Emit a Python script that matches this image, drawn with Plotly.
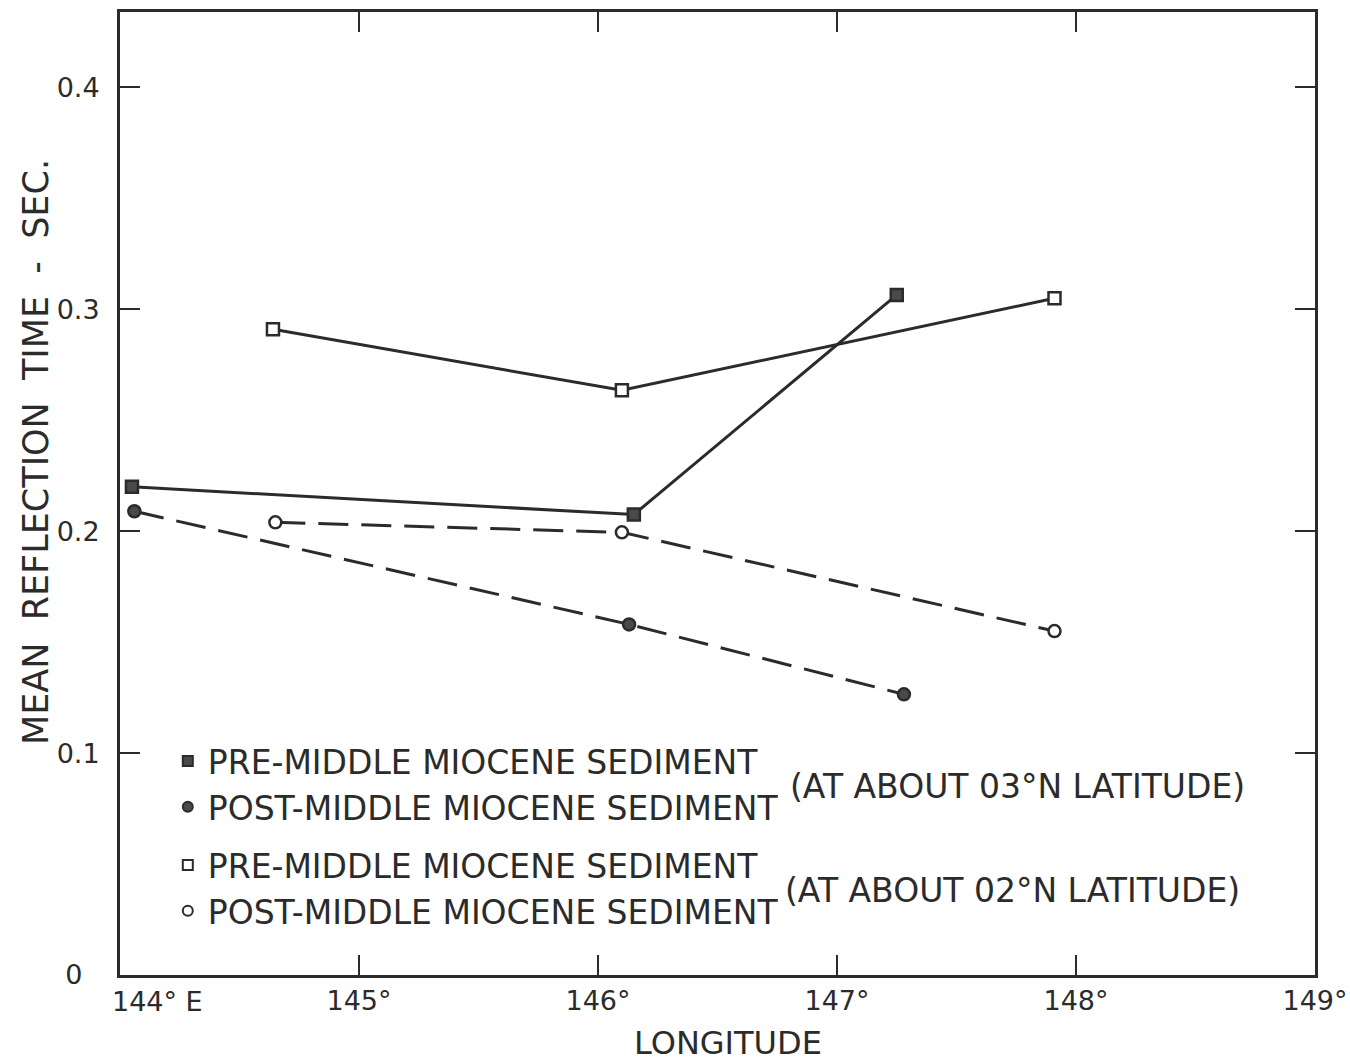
import plotly.graph_objects as go

# Data
lon_pre03 = [144.05, 146.15, 147.25]
t_pre03 = [0.220, 0.2075, 0.3065]
lon_post03 = [144.06, 146.13, 147.28]
t_post03 = [0.209, 0.158, 0.1265]
lon_pre02 = [144.64, 146.10, 147.91]
t_pre02 = [0.291, 0.2635, 0.305]
lon_post02 = [144.65, 146.10, 147.91]
t_post02 = [0.204, 0.1995, 0.155]

x_ticks = [144, 145, 146, 147, 148, 149]
x_tick_labels = ["", "145°", "146°", "147°", "148°", "149°"]
first_x_label = "144° E"
y_ticks = [0, 0.1, 0.2, 0.3, 0.4]
y_tick_labels = ["0" + "\u00a0" * 2, "0.1", "0.2", "0.3", "0.4"]

FONT = "DejaVu Sans"
INK = "#2b2b2b"
FILL = "#4a4a4a"

fig = go.Figure()

def add(x, y, dash, symbol, fill, name, group, legend):
    fig.add_trace(go.Scatter(
        x=x, y=y, mode="lines+markers", name=name,
        line=dict(color=INK, width=3, dash=dash),
        marker=dict(symbol=symbol, size=12, color=fill, line=dict(color=INK, width=2.5)),
        showlegend=False,
    ))
    fig.add_trace(go.Scatter(
        x=[None], y=[None], mode="markers", name=name, legendgroup=group, legend=legend,
        marker=dict(symbol=symbol, size=10, color=fill, line=dict(color=INK, width=2)),
        showlegend=True,
    ))

add(lon_pre03, t_pre03, "solid", "square", FILL, "PRE-MIDDLE MIOCENE SEDIMENT", "a", "legend")
add(lon_post03, t_post03, "30px,13px", "circle", FILL, "POST-MIDDLE MIOCENE SEDIMENT", "b", "legend")
add(lon_pre02, t_pre02, "solid", "square", "white", "PRE-MIDDLE MIOCENE SEDIMENT", "c", "legend2")
add(lon_post02, t_post02, "30px,13px", "circle", "white", "POST-MIDDLE MIOCENE SEDIMENT", "d", "legend2")

legend_common = dict(
    xanchor="left", yanchor="top",
    font=dict(family=FONT, size=33, color=INK),
    bgcolor="rgba(0,0,0,0)", tracegroupgap=0,
    traceorder="grouped", itemwidth=30,
)

fig.update_layout(
    width=1350, height=1064,
    margin=dict(l=120, r=35, t=12, b=89),
    paper_bgcolor="white", plot_bgcolor="white",
    font=dict(family=FONT, color=INK, size=26),
    legend=dict(x=0.04, y=(975 - 733) / 963, **legend_common),
    legend2=dict(x=0.04, y=(975 - 837) / 963, **legend_common),
    xaxis=dict(
        range=[144, 149], tickvals=x_ticks, ticktext=x_tick_labels,
        ticks="inside", ticklen=20, tickwidth=2, tickcolor=INK,
        showline=True, linewidth=3, linecolor=INK, mirror="ticks",
        showgrid=False, zeroline=False, automargin=False,
        tickfont=dict(size=27, family=FONT),
    ),
    yaxis=dict(
        range=[0, 0.434], tickvals=y_ticks, ticktext=y_tick_labels,
        ticks="inside", ticklen=20, tickwidth=2, tickcolor=INK,
        showline=True, linewidth=3, linecolor=INK, mirror="ticks",
        showgrid=False, zeroline=False, automargin=False,
        tickfont=dict(size=27, family=FONT), ticklabelstandoff=12,
    ),
)

# first x tick label (offset to the right as in the original)
fig.add_annotation(xref="x", yref="paper", x=144, y=0, xanchor="left", yanchor="top",
                   xshift=-10, yshift=-9, showarrow=False, text=first_x_label,
                   font=dict(size=27, family=FONT, color=INK))

# axis titles
fig.add_annotation(xref="paper", yref="paper", x=(728 - 120) / 1195, y=(975 - 1043) / 963,
                   xanchor="center", yanchor="middle", showarrow=False, text="LONGITUDE",
                   font=dict(size=32, family=FONT, color=INK))
fig.add_annotation(xref="paper", yref="paper", x=(36 - 120) / 1195, y=(975 - 452) / 963,
                   xanchor="center", yanchor="middle", showarrow=False, textangle=-90,
                   text="MEAN\u00a0\u00a0REFLECTION\u00a0\u00a0TIME\u00a0\u00a0-\u00a0\u00a0SEC.",
                   font=dict(size=35, family=FONT, color=INK))

fig.add_annotation(xref="paper", yref="paper", x=(788 - 120) / 1195, y=(975 - 786) / 963,
                   xanchor="left", yanchor="middle", showarrow=False,
                   text="(AT ABOUT 03°N LATITUDE)", font=dict(size=33, family=FONT, color=INK))
fig.add_annotation(xref="paper", yref="paper", x=(783 - 120) / 1195, y=(975 - 890) / 963,
                   xanchor="left", yanchor="middle", showarrow=False,
                   text="(AT ABOUT 02°N LATITUDE)", font=dict(size=33, family=FONT, color=INK))

fig.write_html("out.html")
